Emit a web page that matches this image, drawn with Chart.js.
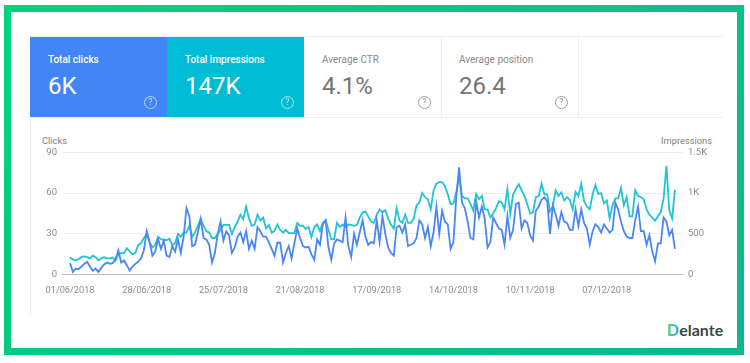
<!DOCTYPE html>
<html><head><meta charset="utf-8">
<script src="https://cdn.jsdelivr.net/npm/chart.js@4"></script>
<style>
html,body{margin:0;padding:0;background:#fff;width:750px;height:363px;overflow:hidden;font-family:Roboto,sans-serif}
#frame{position:absolute;left:4px;top:5px;width:726px;height:336px;border:7px solid;border-image:linear-gradient(135deg,#02d47e,#0fb68f) 1}
canvas{position:absolute;left:0;top:0}
.card{position:absolute;top:37px;width:137px;height:80px;box-sizing:border-box}
.card .t{position:absolute;left:18px;top:16px;font-size:10px;line-height:14px;font-weight:500}
.card .v{position:absolute;left:18px;top:34px;font-size:24px;line-height:30px}
.card .q{position:absolute;left:114px;top:59px;width:11px;height:11px;border:1px solid;border-radius:50%;font-size:9px;line-height:11px;text-align:center;opacity:.65}
.on{color:#fff}.off{color:#757575}
.off .t{font-weight:400;color:#8a8a8a}
.off .q{color:#666}
.line{position:absolute;background:#eeeeee}
.lab{position:absolute;top:134px;font-size:9.3px;line-height:13px;color:#808080}
#logo{position:absolute;left:667px;top:321px;font-family:Lato,sans-serif;font-weight:700;font-size:16px;line-height:18px;color:#3a4745}
#logo b{background:linear-gradient(90deg,#5fd07a,#27b7d4);-webkit-background-clip:text;background-clip:text;color:transparent}
</style></head><body>
<div id="frame"></div>
<div class="line" style="left:30px;top:36px;width:692px;height:1px"></div>
<div class="line" style="left:30px;top:117px;width:692px;height:1px"></div>
<div class="line" style="left:30px;top:117px;width:1px;height:198px"></div>
<div class="line" style="left:441px;top:37px;width:1px;height:80px"></div>
<div class="line" style="left:578px;top:37px;width:1px;height:80px"></div>
<div class="card on" style="left:30px;background:#4285f4"><div class="t">Total clicks</div><div class="v">6K</div><div class="q">?</div></div>
<div class="card on" style="left:167px;background:#00bcd4"><div class="t">Total impressions</div><div class="v">147K</div><div class="q">?</div></div>
<div class="card off" style="left:304px"><div class="t">Average CTR</div><div class="v">4.1%</div><div class="q">?</div></div>
<div class="card off" style="left:441px"><div class="t">Average position</div><div class="v">26.4</div><div class="q">?</div></div>
<div class="lab" style="left:42px">Clicks</div>
<div class="lab" style="right:38px">Impressions</div>
<div id="logo"><b>D</b>elante</div>
<canvas id="c" width="750" height="363"></canvas>
<script>
const tickLabels=["01/06/2018","28/06/2018","25/07/2018","21/08/2018","17/09/2018","14/10/2018","10/11/2018","07/12/2018"];
const tickDays=[0,27,54,81,108,135,162,189];
const leftTicks=[0,30,60,90];
const rightTicks=[0,500,1000,1500];
const rightTickLabels=["0","500","1K","1.5K"];
const clicks=[8.5,2,4.5,4,6,8,9.5,6,3,4.5,2,5,7.5,9,8,8.5,11,18,9,10.5,7,3,6,8,9.5,12,18,32,24,14,17,26,19,25,14,13,21,17,26,16,28,49,43,21,22,31,41,27,26,22,9,16,30,39,25,32,29,16,20,28,
31,24,32,19,25,19,35,32,28,28,24,19,14,23.5,23.5,9,16,21,12,23,
34,27,21,20,20.5,15,11,26,22,37,40,20,11,23,26,25,24,42,21,13,
30,22,31,40,28,22,24,23,40,24,43,30,20,16,14,35,36,31,37,21,
22,23,27,40,37,27,35,21,31,50,30,47,39,37,19,24,57,
79,53,49,39,27,26,54,42,50,41.5,20,24,42,38,34,33,22,43,27,33,52,53,34,40,38,29,25,47,50,55,57,54,30,51,44,36,46,39,38,33,33,48,36,48,38,34,22,32,37,35,31,37,34,31,33,53,48,39,32,28,27,27,40,50,32,32,22,29,17,10,23,23,42,39,29,33,19];
const impressions=[210,185,175,190,215,225,215,200,235,215,175,200,215,200,200,210,175,
250,265,265,325,285,250,265,365,385,450,500,400,335,365,465,435,425,425,440,365,385,500,465,515,515,600,465,515,600,685,600,535,515,450,450,500,550,610,610,610,500,585,650,
735,680,835,690,600,615,735,665,700,565,610,515,535,615,550,515,550,510,510,510,
635,600,600,560,585,460,585,615,535,635,665,550,435,435,635,585,615,585,615,610,
600,610,700,765,775,715,650,635,735,800,765,790,690,615,565,815,665,635,735,635,
635,685,850,885,1000,950,925,800,1035,1115,1135,1135,1085,985,865,875,1015,
1200,965,935,935,865,785,990,925,965,800,800,700,750,815,900,885,800,1050,740,985,1050,1110,1035,965,865,750,765,950,960,1115,985,985,775,840,1035,965,1010,910,950,915,800,1015,965,1115,900,835,800,985,1100,990,1000,875,910,690,850,935,935,1065,850,950,715,715,1035,965,950,925,800,735,700,660,715,765,935,1335,785,690,1040];

const gray='#8c8c8c';
const yFont={family:'Roboto',size:9.5};
const xFont={family:'Roboto',size:9.2};
new Chart(document.getElementById('c'),{
  type:'line',
  data:{datasets:[
    {label:'Clicks',yAxisID:'y',data:clicks.map((v,i)=>({x:i,y:v})),borderColor:'#4a86f5',borderWidth:1.8,pointRadius:0,tension:0,order:1},
    {label:'Impressions',yAxisID:'y1',data:impressions.map((v,i)=>({x:i,y:v})),borderColor:'#20c4d6',borderWidth:1.8,pointRadius:0,tension:0,order:2}
  ]},
  options:{
    responsive:false,animation:false,
    plugins:{legend:{display:false},tooltip:{enabled:false}},
    layout:{padding:{top:152.3,left:0,right:0,bottom:0}},
    scales:{
      x:{type:'linear',min:-2.83,max:215.83,
        afterBuildTicks:s=>{s.ticks=tickDays.map(v=>({value:v}));},
        afterFit:s=>{s.height=88.3;},
        grid:{display:false,drawTicks:false},border:{display:false},
        ticks:{autoSkip:false,maxRotation:0,padding:10,color:gray,font:xFont,callback:v=>tickLabels[tickDays.indexOf(v)]}},
      y:{position:'left',min:0,max:90,
        afterBuildTicks:s=>{s.ticks=leftTicks.map(v=>({value:v}));},
        afterFit:s=>{s.width=62;},
        border:{display:false},
        grid:{drawTicks:false,lineWidth:1,color:c=>c.tick&&c.tick.value===0?'#bdbdbd':'#efefef'},
        ticks:{padding:5,color:gray,font:yFont}},
      y1:{position:'right',min:0,max:1500,
        afterBuildTicks:s=>{s.ticks=rightTicks.map(v=>({value:v}));},
        afterFit:s=>{s.width=67;},
        border:{display:false},grid:{display:false,drawTicks:false},
        ticks:{padding:5,color:gray,font:yFont,callback:v=>rightTickLabels[rightTicks.indexOf(v)]}}
    }
  }
});
</script>
</body></html>
